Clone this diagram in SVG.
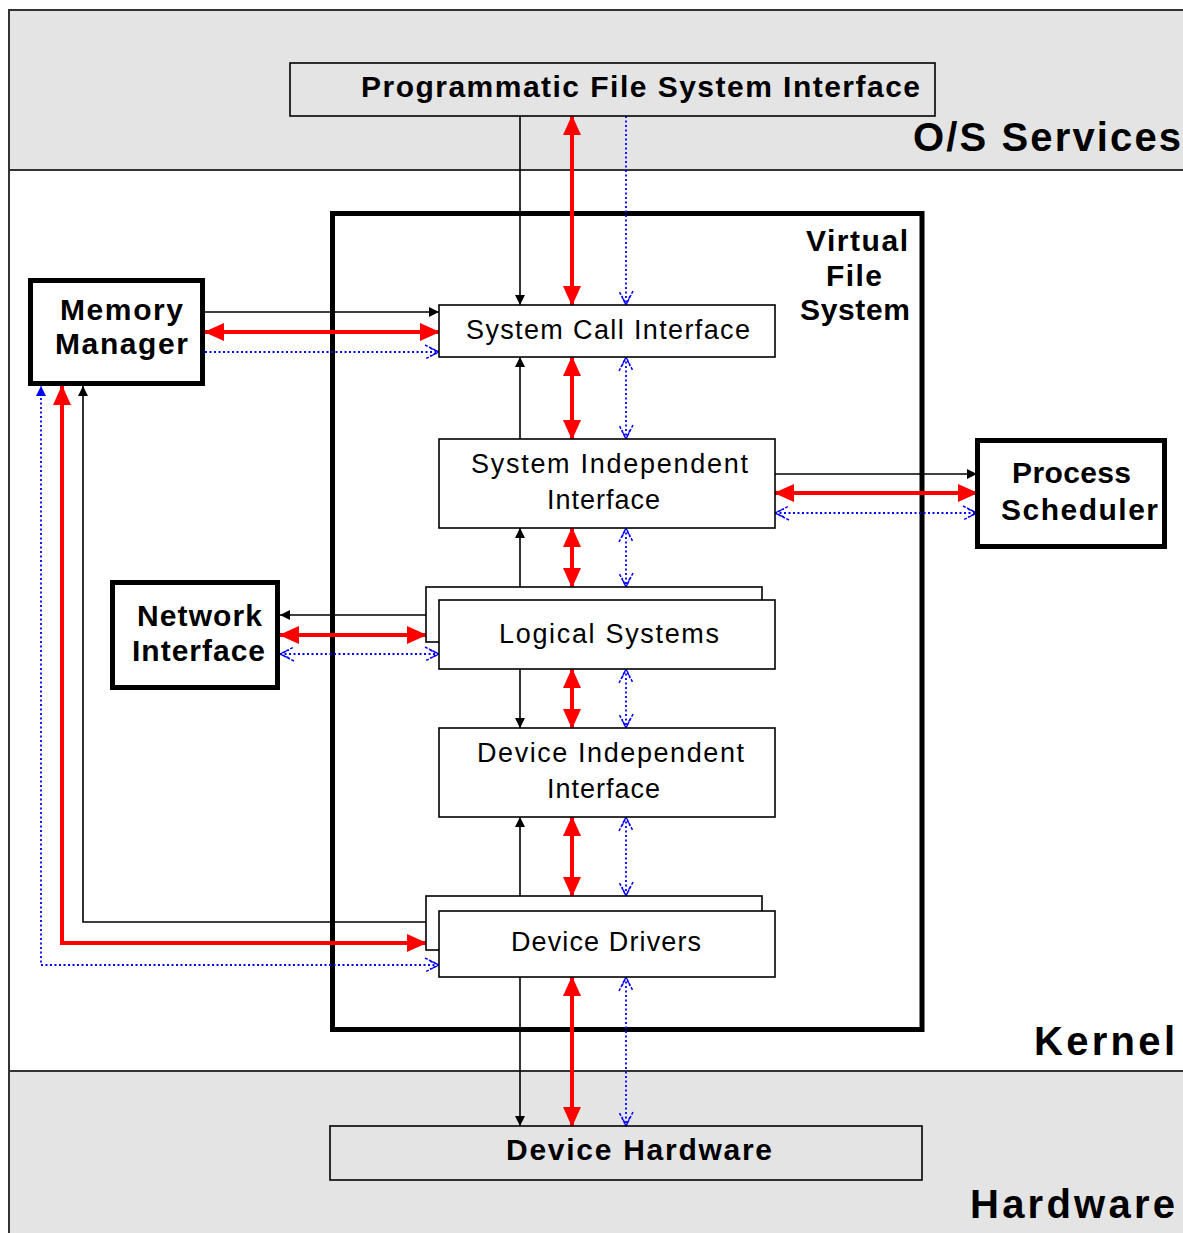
<svg xmlns="http://www.w3.org/2000/svg" width="1183" height="1233" viewBox="0 0 1183 1233">
<style>
.band{fill:#e4e4e4;stroke:#333;stroke-width:2}
.kband{fill:#fff;stroke:#333;stroke-width:2}
.thin{fill:none;stroke:#000;stroke-width:1.6}
.box{fill:#fff;stroke:#000;stroke-width:1.6}
.thick{fill:#fff;stroke:#000;stroke-width:5}
.vfs{fill:none;stroke:#000;stroke-width:5}
.b{font-family:"Liberation Sans",Arial,sans-serif;font-weight:bold;font-size:30px;fill:#000}
.n{font-family:"Liberation Sans",Arial,sans-serif;font-size:27px;fill:#000}
.big{font-family:"Liberation Sans",Arial,sans-serif;font-weight:bold;font-size:40px;fill:#000}
.ck{fill:none;stroke:#000;stroke-width:1.6}
.cr{fill:none;stroke:#f00;stroke-width:4}
.cb{fill:none;stroke:#00f;stroke-width:1.8;stroke-dasharray:2 2.5}
</style>
<defs>
<marker id="ak" markerUnits="userSpaceOnUse" viewBox="0 0 10 10" refX="10" refY="5" markerWidth="10" markerHeight="10" orient="auto"><path d="M0,0 L10,5 L0,10 z" fill="#000"/></marker>
<marker id="ar" markerUnits="userSpaceOnUse" viewBox="0 0 20 18" refX="19" refY="9" markerWidth="20" markerHeight="18" orient="auto-start-reverse"><path d="M0,0 L20,9 L0,18 z" fill="#f00"/></marker>
<marker id="ab" markerUnits="userSpaceOnUse" viewBox="0 0 16 16" refX="15" refY="8" markerWidth="16" markerHeight="16" orient="auto-start-reverse"><path d="M1,1 L15,8 L1,15 M6,4 L15,8 L6,12" fill="none" stroke="#00f" stroke-width="1.5" stroke-dasharray="3 1.5"/></marker>
<marker id="abf" markerUnits="userSpaceOnUse" viewBox="0 0 10 10" refX="10" refY="5" markerWidth="10" markerHeight="10" orient="auto"><path d="M0,0 L10,5 L0,10 z" fill="#00f"/></marker>
</defs>
<rect x="0" y="0" width="1183" height="1233" fill="#fff"/>
<g id="bands">
<rect class="band" x="9" y="10" width="1200" height="160"/>
<rect class="kband" x="9" y="170" width="1200" height="901"/>
<rect class="band" x="9" y="1071" width="1200" height="180"/>
<text class="big" x="913" y="151" textLength="268" lengthAdjust="spacing">O/S Services</text>
<text class="big" x="1034" y="1055" textLength="141" lengthAdjust="spacing">Kernel</text>
<text class="big" x="970" y="1218" textLength="205" lengthAdjust="spacing">Hardware</text>
</g>
<g id="vfs">
<rect class="vfs" x="332.5" y="213.5" width="589.5" height="816"/>
<text class="b" x="806" y="251" textLength="102" lengthAdjust="spacing">Virtual</text>
<text class="b" x="826" y="286" textLength="56" lengthAdjust="spacing">File</text>
<text class="b" x="800" y="320" textLength="110" lengthAdjust="spacing">System</text>
</g>
<g id="connectors">
<line class="ck" x1="520" y1="116" x2="520" y2="305" marker-end="url(#ak)"/>
<line class="ck" x1="520" y1="439" x2="520" y2="357" marker-end="url(#ak)"/>
<line class="ck" x1="520" y1="587" x2="520" y2="528" marker-end="url(#ak)"/>
<line class="ck" x1="520" y1="669" x2="520" y2="728" marker-end="url(#ak)"/>
<line class="ck" x1="520" y1="896" x2="520" y2="817" marker-end="url(#ak)"/>
<line class="ck" x1="520" y1="977" x2="520" y2="1126" marker-end="url(#ak)"/>
<line class="ck" x1="205" y1="312" x2="439" y2="312" marker-end="url(#ak)"/>
<line class="ck" x1="775" y1="474" x2="977" y2="474" marker-end="url(#ak)"/>
<line class="ck" x1="426" y1="615" x2="280" y2="615" marker-end="url(#ak)"/>
<polyline class="ck" points="426,922 83,922 83,386" marker-end="url(#ak)"/>
<line class="cr" x1="572" y1="116" x2="572" y2="305" marker-start="url(#ar)" marker-end="url(#ar)"/>
<line class="cr" x1="572" y1="357" x2="572" y2="439" marker-start="url(#ar)" marker-end="url(#ar)"/>
<line class="cr" x1="572" y1="528" x2="572" y2="587" marker-start="url(#ar)" marker-end="url(#ar)"/>
<line class="cr" x1="572" y1="669" x2="572" y2="728" marker-start="url(#ar)" marker-end="url(#ar)"/>
<line class="cr" x1="572" y1="817" x2="572" y2="896" marker-start="url(#ar)" marker-end="url(#ar)"/>
<line class="cr" x1="572" y1="977" x2="572" y2="1126" marker-start="url(#ar)" marker-end="url(#ar)"/>
<line class="cr" x1="205" y1="332" x2="439" y2="332" marker-start="url(#ar)" marker-end="url(#ar)"/>
<line class="cr" x1="775" y1="493" x2="977" y2="493" marker-start="url(#ar)" marker-end="url(#ar)"/>
<line class="cr" x1="280" y1="635" x2="426" y2="635" marker-start="url(#ar)" marker-end="url(#ar)"/>
<polyline class="cr" points="62,386 62,943 426,943" marker-start="url(#ar)" marker-end="url(#ar)"/>
<line class="cb" x1="626" y1="116" x2="626" y2="305" marker-end="url(#ab)"/>
<line class="cb" x1="626" y1="357" x2="626" y2="439" marker-start="url(#ab)" marker-end="url(#ab)"/>
<line class="cb" x1="626" y1="528" x2="626" y2="587" marker-start="url(#ab)" marker-end="url(#ab)"/>
<line class="cb" x1="626" y1="669" x2="626" y2="728" marker-start="url(#ab)" marker-end="url(#ab)"/>
<line class="cb" x1="626" y1="817" x2="626" y2="896" marker-start="url(#ab)" marker-end="url(#ab)"/>
<line class="cb" x1="626" y1="977" x2="626" y2="1126" marker-start="url(#ab)" marker-end="url(#ab)"/>
<line class="cb" x1="205" y1="352" x2="439" y2="352" marker-end="url(#ab)"/>
<line class="cb" x1="775" y1="513" x2="977" y2="513" marker-start="url(#ab)" marker-end="url(#ab)"/>
<line class="cb" x1="280" y1="654" x2="439" y2="654" marker-start="url(#ab)" marker-end="url(#ab)"/>
<polyline class="cb" points="439,965 41,965 41,386" marker-start="url(#ab)" marker-end="url(#abf)"/>
</g>
<g id="pfsi">
<rect class="thin" x="290" y="63" width="645" height="53"/>
<text class="b" x="361" y="97" textLength="559" lengthAdjust="spacing">Programmatic File System Interface</text>
</g>
<g id="memory-manager">
<rect class="thick" x="30.5" y="280.5" width="172" height="103"/>
<text class="b" x="60" y="320" textLength="123" lengthAdjust="spacing">Memory</text>
<text class="b" x="55" y="354" textLength="133" lengthAdjust="spacing">Manager</text>
</g>
<g id="system-call-interface">
<rect class="box" x="439" y="305" width="336" height="52"/>
<text class="n" x="466" y="339" textLength="284" lengthAdjust="spacing">System Call Interface</text>
</g>
<g id="system-independent-interface">
<rect class="box" x="439" y="439" width="336" height="89"/>
<text class="n" x="471" y="473" textLength="277" lengthAdjust="spacing">System Independent</text>
<text class="n" x="547" y="509" textLength="113" lengthAdjust="spacing">Interface</text>
</g>
<g id="process-scheduler">
<rect class="thick" x="977.5" y="440.5" width="187" height="106"/>
<text class="b" x="1012" y="483" textLength="119" lengthAdjust="spacing">Process</text>
<text class="b" x="1001" y="520" textLength="157" lengthAdjust="spacing">Scheduler</text>
</g>
<g id="network-interface">
<rect class="thick" x="112.5" y="582.5" width="165" height="105"/>
<text class="b" x="137" y="626" textLength="125" lengthAdjust="spacing">Network</text>
<text class="b" x="132" y="661" textLength="133" lengthAdjust="spacing">Interface</text>
</g>
<g id="logical-systems">
<rect class="box" x="426" y="587" width="336" height="55"/>
<rect class="box" x="439" y="600" width="336" height="69"/>
<text class="n" x="499" y="643" textLength="220" lengthAdjust="spacing">Logical Systems</text>
</g>
<g id="device-independent-interface">
<rect class="box" x="439" y="728" width="336" height="89"/>
<text class="n" x="477" y="762" textLength="267" lengthAdjust="spacing">Device Independent</text>
<text class="n" x="547" y="798" textLength="113" lengthAdjust="spacing">Interface</text>
</g>
<g id="device-drivers">
<rect class="box" x="426" y="896" width="336" height="54"/>
<rect class="box" x="439" y="911" width="336" height="66"/>
<text class="n" x="511" y="951" textLength="190" lengthAdjust="spacing">Device Drivers</text>
</g>
<g id="device-hardware">
<rect class="thin" x="330" y="1126" width="592" height="54"/>
<text class="b" x="506" y="1160" textLength="266" lengthAdjust="spacing">Device Hardware</text>
</g>
</svg>
